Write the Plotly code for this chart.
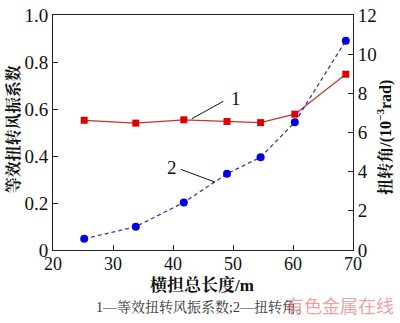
import plotly.graph_objects as go

lengths = [25.2, 33.8, 41.8, 49.0, 54.6, 60.3, 68.8]
coef = [0.552, 0.540, 0.554, 0.547, 0.542, 0.578, 0.748]
angle = [0.57, 1.19, 2.43, 3.89, 4.74, 6.52, 10.69]

x_ticks = [20, 30, 40, 50, 60, 70]
y1_ticks = [0, 0.2, 0.4, 0.6, 0.8, 1.0]
y1_labels = ["0", "0.2", "0.4", "0.6", "0.8", "1.0"]
y2_ticks = [0, 2, 4, 6, 8, 10, 12]

FONT = "Liberation Serif, Noto Serif CJK SC, Noto Sans CJK SC, serif"

fig = go.Figure()
fig.add_trace(go.Scatter(
    x=lengths, y=coef, mode="lines+markers",
    line=dict(color="#c83232", width=1.3),
    marker=dict(symbol="square", size=7, color="#e00000"),
    yaxis="y", showlegend=False))
fig.add_trace(go.Scatter(
    x=lengths, y=angle, mode="lines+markers",
    line=dict(color="#3a3aa8", width=1.3, dash="4px,3px"),
    marker=dict(symbol="circle", size=8, color="#0000e0"),
    yaxis="y2", showlegend=False))

def axis_common(size):
    return dict(showgrid=False, zeroline=False, showline=True, linecolor="#222",
                linewidth=1, ticks="inside", ticklen=5, tickcolor="#222",
                ticklabeloverflow="allow",
                tickfont=dict(family=FONT, size=size, color="#111"))

fig.update_layout(
    width=400, height=323,
    margin=dict(l=53, r=47, t=5, b=73),
    plot_bgcolor="white", paper_bgcolor="white",
    xaxis=dict(range=[20, 70], tickvals=x_ticks, mirror=True, ticklabelstandoff=-3,
               **axis_common(18)),
    yaxis=dict(range=[0, 1.0], tickvals=y1_ticks, ticktext=y1_labels, **axis_common(19)),
    yaxis2=dict(range=[0, 12], tickvals=y2_ticks, overlaying="y", side="right",
                **axis_common(19)),
)

# leader lines and labels
fig.add_shape(type="line", xref="x", yref="y", x0=43.1, y0=0.558, x1=48.4, y1=0.633,
              line=dict(color="#111", width=1))
fig.add_annotation(x=49.3, y=0.645, xref="x", yref="y", text="1", showarrow=False,
                   font=dict(family=FONT, size=19, color="#111"), xanchor="left")
fig.add_shape(type="line", xref="x", yref="y", x0=41.3, y0=0.343, x1=47.0, y1=0.289,
              line=dict(color="#111", width=1))
fig.add_annotation(x=41.0, y=0.35, xref="x", yref="y", text="2", showarrow=False,
                   font=dict(family=FONT, size=19, color="#111"), xanchor="right")

# pixel-placed texts (converted to paper coords below)
fig.add_annotation(x=13, y=124, text="<b>等效扭转风振系数</b>",
                   showarrow=False, textangle=-90, font=dict(family=FONT, size=16, color="#111"))
fig.add_annotation(x=202, y=287, text="<b>横担总长度/m</b>", showarrow=False,
                   font=dict(family=FONT, size=17, color="#111"))
fig.add_annotation(x=385, y=133, text="<b>扭转角/(10<sup>−3</sup>rad)</b>", showarrow=False,
                   textangle=-90, font=dict(family=FONT, size=16, color="#111"))
fig.add_annotation(x=203, y=309, text="1—等效扭转风振系数;2—扭转角。", showarrow=False,
                   font=dict(family=FONT, size=14, color="#333"))
fig.add_annotation(x=340, y=307, text="有色金属在线", showarrow=False,
                   font=dict(family="Noto Sans CJK SC", size=18, color="rgba(230,120,120,0.7)"))

W, H = 400, 323
L, R, T, B = 53, 47, 5, 73
pw, ph = W - L - R, H - T - B
new = []
for a in fig.layout.annotations:
    if a.xref == "x":
        new.append(a)
        continue
    px, py = a.x, a.y
    a.update(xref="paper", yref="paper", x=(px - L) / pw, y=(H - B - py) / ph,
             xanchor="center", yanchor="middle")
    new.append(a)
fig.layout.annotations = new

fig.write_html("out.html")
